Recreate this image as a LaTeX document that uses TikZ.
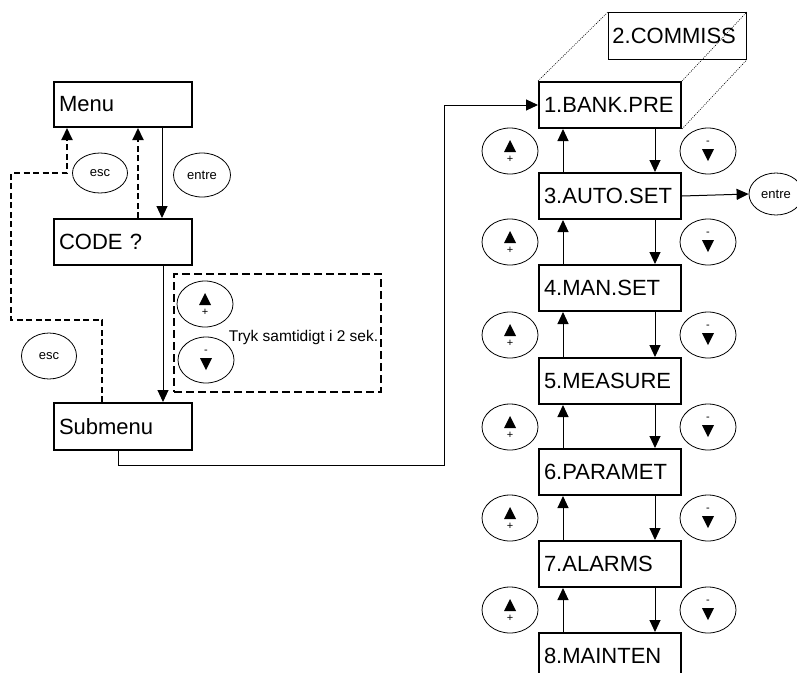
\documentclass[tikz,border=0pt]{standalone}
\usepackage{fontspec}
\setmainfont{Liberation Sans}
\usetikzlibrary{shapes.geometric,arrows.meta}
\newcommand\uptri{\tikz\fill (0pt,0pt) -- (12pt,0pt) -- (6pt,12pt) -- cycle;}
\newcommand\dntri{\tikz\fill (0pt,12pt) -- (12pt,12pt) -- (6pt,0pt) -- cycle;}
\newcommand\upglyph{\uptri\\[0pt]{\fontsize{11pt}{10pt}\selectfont +}}
\newcommand\downglyph{{\fontsize{11pt}{10pt}\selectfont -}\\[4pt]\dntri}
\begin{document}
\begin{tikzpicture}[x=1pt,y=-1pt,
  box/.style={draw, line width=2pt, rectangle, text width=128pt, inner xsep=5pt, inner ysep=0pt, minimum height=46pt, align=left, font=\fontsize{22pt}{24pt}\selectfont, anchor=north west},
  rbox/.style={box, text width=132pt},
  btn/.style={draw, ellipse, line width=0.8pt, inner sep=0pt, minimum width=56pt, minimum height=46pt, align=center, font=\fontsize{10pt}{10pt}\selectfont},
  small/.style={btn, font=\fontsize{13pt}{15pt}\selectfont},
  arr/.style={line width=1pt, -{Triangle[length=12pt,width=11pt]}},
  dsh/.style={line width=2pt, dash pattern=on 6pt off 3.5pt},
  dots/.style={line width=0.6pt, dash pattern=on 1pt off 1.2pt},
]
\useasboundingbox (0,0) rectangle (797,672);
% left column
\node[box, minimum height=45pt] (menu) at (53,81) {Menu};
\node[box] (code) at (53,218) {CODE ?};
\node[box, minimum height=47pt] (sub) at (53,402) {Submenu};
\node[small, minimum width=55pt, minimum height=40pt] (esc1) at (100,173) {esc};
\node[small, minimum width=57pt, minimum height=44pt] (entre1) at (202,175) {entre};
\node[small, minimum width=55pt, minimum height=46pt] (esc2) at (49,356) {esc};
\node[draw, line width=2pt, dash pattern=on 8pt off 4pt, minimum width=207pt, minimum height=118pt, inner sep=0pt, anchor=north west] (hold) at (173,273) {};
\node[btn] (holdup) at (205,304) {\upglyph};
\node[btn] (holddown) at (206,360) {\downglyph};
\node[font=\fontsize{15.5pt}{17pt}\selectfont, inner sep=0pt] (holdtxt) at (303.5,337) {Tryk samtidigt i 2 sek.};
\draw[arr] ([xshift=109pt]menu.south west) -- ([xshift=109pt]code.north west);
\draw[arr] ([xshift=110pt]code.south west) -- ([xshift=110pt]sub.north west);
\draw[arr,dsh] ([xshift=85pt]code.north west) -- ([xshift=85pt]menu.south west);
\draw[arr,dsh] ([xshift=49pt]sub.north west) -- ++(0,-82) -- ++(-91,0) -- ++(0,-147) -- ++(56,0) -- ([xshift=14pt]menu.south west);
% right column
\node[draw, line width=0.8pt, text width=130pt, inner xsep=4pt, inner ysep=0pt, minimum height=47pt, align=left, font=\fontsize{22pt}{24pt}\selectfont, anchor=north west] (r0) at (608,12) {2.COMMISS};
\foreach \k/\top/\lab in {1/81/1.BANK.PRE,2/172/3.AUTO.SET,3/264/4.MAN.SET,4/357/5.MEASURE,5/448/6.PARAMET,6/540/7.ALARMS,7/632/8.MAINTEN}
  \node[rbox] (r\k) at (538,\top) {\lab};
\draw[dots] (r1.north west) -- (r0.north west);
\draw[dots] (r1.north east) -- (r0.north east);
\draw[dots] (r1.south east) -- (r0.south east);
\foreach \k/\y in {1/151,2/242,3/335,4/427,5/518,6/610}{
  \node[btn] (up\k) at (510,\y) {\upglyph};
  \node[btn] (dn\k) at (708,\y) {\downglyph};
}
\foreach \k in {1,...,6}{
  \pgfmathtruncatemacro\j{\k+1}
  \draw[arr] ([xshift=117pt]r\k.south west) -- ([xshift=117pt]r\j.north west);
  \draw[arr] ([xshift=25pt]r\j.north west) -- ([xshift=25pt]r\k.south west);
}
\node[small, minimum width=54pt, minimum height=42pt] (entre2) at (776,194) {entre};
\draw[arr] (r2.east) -- (entre2.west);
\coordinate (turn) at (444,465);
\draw[arr] ([xshift=65pt]sub.south west) |- (turn) |- (r1.west);
\end{tikzpicture}
\end{document}
